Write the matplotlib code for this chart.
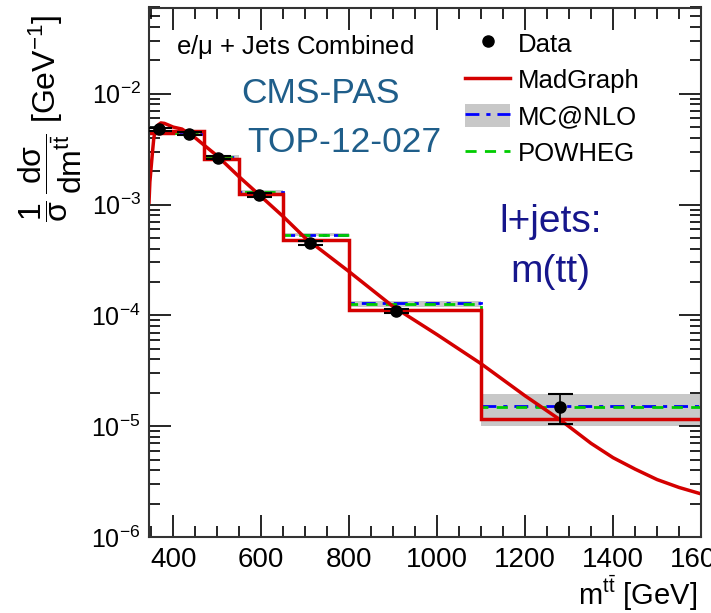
import matplotlib
matplotlib.use('Agg')
import matplotlib.pyplot as plt
from matplotlib.lines import Line2D
from matplotlib.patches import Patch
from matplotlib.ticker import MultipleLocator, LogLocator, NullFormatter

plt.rcParams['font.family'] = ['Liberation Sans', 'DejaVu Sans']
plt.rcParams['mathtext.fontset'] = 'custom'
plt.rcParams['mathtext.rm'] = 'Liberation Sans'
plt.rcParams['mathtext.it'] = 'Liberation Sans'
plt.rcParams['mathtext.bf'] = 'Liberation Sans:bold'

# binning of m(ttbar) in GeV
bin_edges = [345, 400, 470, 550, 650, 800, 1100, 1600]

# data points
data_x = [368, 436, 503, 596, 712, 906, 1280]
data_y = [4.8e-3, 4.35e-3, 2.65e-3, 1.22e-3, 4.5e-4, 1.1e-4, 1.5e-5]
data_err = [1.5e-4, 1.3e-4, 8e-5, 4e-5, 1.6e-5, 5e-6, 4.5e-6]

# predictions per bin
madgraph_hist = [4.45e-3, 4.6e-3, 2.59e-3, 1.24e-3, 4.8e-4, 1.12e-4, 1.17e-5]
mcatnlo_hist = [4.55e-3, 4.35e-3, 2.7e-3, 1.31e-3, 5.35e-4, 1.28e-4, 1.52e-5]
mcatnlo_lo = [4.4e-3, 4.2e-3, 2.62e-3, 1.26e-3, 5.15e-4, 1.2e-4, 1.0e-5]
mcatnlo_hi = [4.7e-3, 4.5e-3, 2.78e-3, 1.36e-3, 5.55e-4, 1.36e-4, 1.95e-5]
powheg_hist = [4.5e-3, 4.4e-3, 2.68e-3, 1.30e-3, 5.3e-4, 1.27e-4, 1.5e-5]

# smooth MadGraph curve
curve_x = [345, 347, 350, 353, 356, 360, 365, 372, 380, 390, 400, 420, 450,
           500, 550, 600, 650, 700, 800, 900, 1000, 1100, 1200, 1280, 1350,
           1400, 1450, 1500, 1550, 1600]
curve_y = [1.05e-3, 1.6e-3, 2.2e-3, 3.0e-3, 4.0e-3, 4.8e-3, 5.2e-3, 5.45e-3,
           5.4e-3, 5.2e-3, 5.0e-3, 4.8e-3, 4.0e-3, 2.75e-3, 1.78e-3, 1.18e-3,
           7.8e-4, 5.0e-4, 2.48e-4, 1.2e-4, 6.7e-5, 3.66e-5, 1.88e-5, 1.14e-5,
           7.0e-6, 5.2e-6, 4.1e-6, 3.3e-6, 2.8e-6, 2.45e-6]

red = '#d40000'
blue = '#0000ff'
green = '#00cc00'

fig = plt.figure(figsize=(7.11, 6.13), dpi=100)
ax = fig.add_axes([149 / 711, 1 - 537 / 613, 552 / 711, 529.5 / 613])

# MC@NLO uncertainty band
ax.stairs(mcatnlo_hi, bin_edges, baseline=mcatnlo_lo, fill=True,
          color='#c8c8c8', lw=0)
ax.stairs(mcatnlo_hist, bin_edges, baseline=None, color=blue, lw=2,
          linestyle=(0, (5, 2.5, 1.5, 2.5)))
ax.stairs(powheg_hist, bin_edges, baseline=None, color=green, lw=2,
          linestyle=(0, (4, 3)))
ax.stairs(madgraph_hist, bin_edges, baseline=None, color=red, lw=2.5)
ax.plot(curve_x, curve_y, color=red, lw=2.5)
ax.errorbar(data_x, data_y, yerr=data_err, fmt='o', color='black', ms=8,
            capsize=9, elinewidth=1.2, capthick=1.5, zorder=5)

ax.set_yscale('log')
ax.set_xlim(345, 1600)
ax.set_ylim(1e-6, 0.06)

ax.xaxis.set_major_locator(MultipleLocator(200))
ax.xaxis.set_minor_locator(MultipleLocator(50))
ax.yaxis.set_major_locator(LogLocator(base=10, numticks=10))
ax.yaxis.set_minor_locator(LogLocator(base=10, subs=range(2, 10), numticks=20))
ax.yaxis.set_minor_formatter(NullFormatter())

ax.tick_params(which='both', direction='in', top=True, right=True, width=1.2)
ax.tick_params(which='major', length=16)
ax.tick_params(which='minor', length=8)
ax.tick_params(axis='x', labelsize=20, pad=7)
ax.tick_params(axis='y', labelsize=18, pad=6)
for s in ax.spines.values():
    s.set_linewidth(1.5)
    s.set_color('#333333')

ax.set_xlabel(r'm$^{\mathrm{t\bar{t}}}$ [GeV]', fontsize=21, loc='right')
ax.xaxis.label.set_va('baseline')
ax.xaxis.set_label_coords(0.993, -0.128)
ax.set_ylabel(r'$\dfrac{1}{\sigma}\,\dfrac{\mathrm{d}\sigma}{\mathrm{dm}^{\mathrm{t\bar{t}}}}$ [GeV$^{-1}$]',
              fontsize=23, loc='top')
ax.yaxis.set_label_coords(-0.118, 0.986)

ax.text(0.049, 0.913, r'e/$\mu$ + Jets Combined', transform=ax.transAxes,
        fontsize=18.5, va='baseline')
ax.text(0.168, 0.82, 'CMS-PAS', transform=ax.transAxes, fontsize=25.5,
        color='#1f5e8a', va='baseline')
ax.text(0.178, 0.727, 'TOP-12-027', transform=ax.transAxes, fontsize=25.5,
        color='#1f5e8a', va='baseline')
ax.text(0.727, 0.576, 'l+jets:', transform=ax.transAxes, fontsize=28,
        color='#16168c', ha='center', va='baseline')
ax.text(0.727, 0.482, 'm(tt)', transform=ax.transAxes, fontsize=28,
        color='#16168c', ha='center', va='baseline')

handles = [
    Line2D([], [], marker='o', color='black', ls='none', ms=8),
    Line2D([], [], color=red, lw=2.5),
    (Patch(facecolor='#c8c8c8', edgecolor='none'),
     Line2D([], [], color=blue, lw=2, linestyle=(0, (5, 2.5, 1.5, 2.5)))),
    Line2D([], [], color=green, lw=2, linestyle=(0, (4, 3))),
]
labels = ['Data', 'MadGraph', 'MC@NLO', 'POWHEG']
ax.legend(handles, labels, loc='upper left', bbox_to_anchor=(0.5725, 0.955),
          frameon=False, fontsize=18.5, borderpad=0, borderaxespad=0,
          handlelength=1.75, handleheight=1.0, handletextpad=0.3,
          labelspacing=0.43)

fig.savefig('out.png', dpi=100)
